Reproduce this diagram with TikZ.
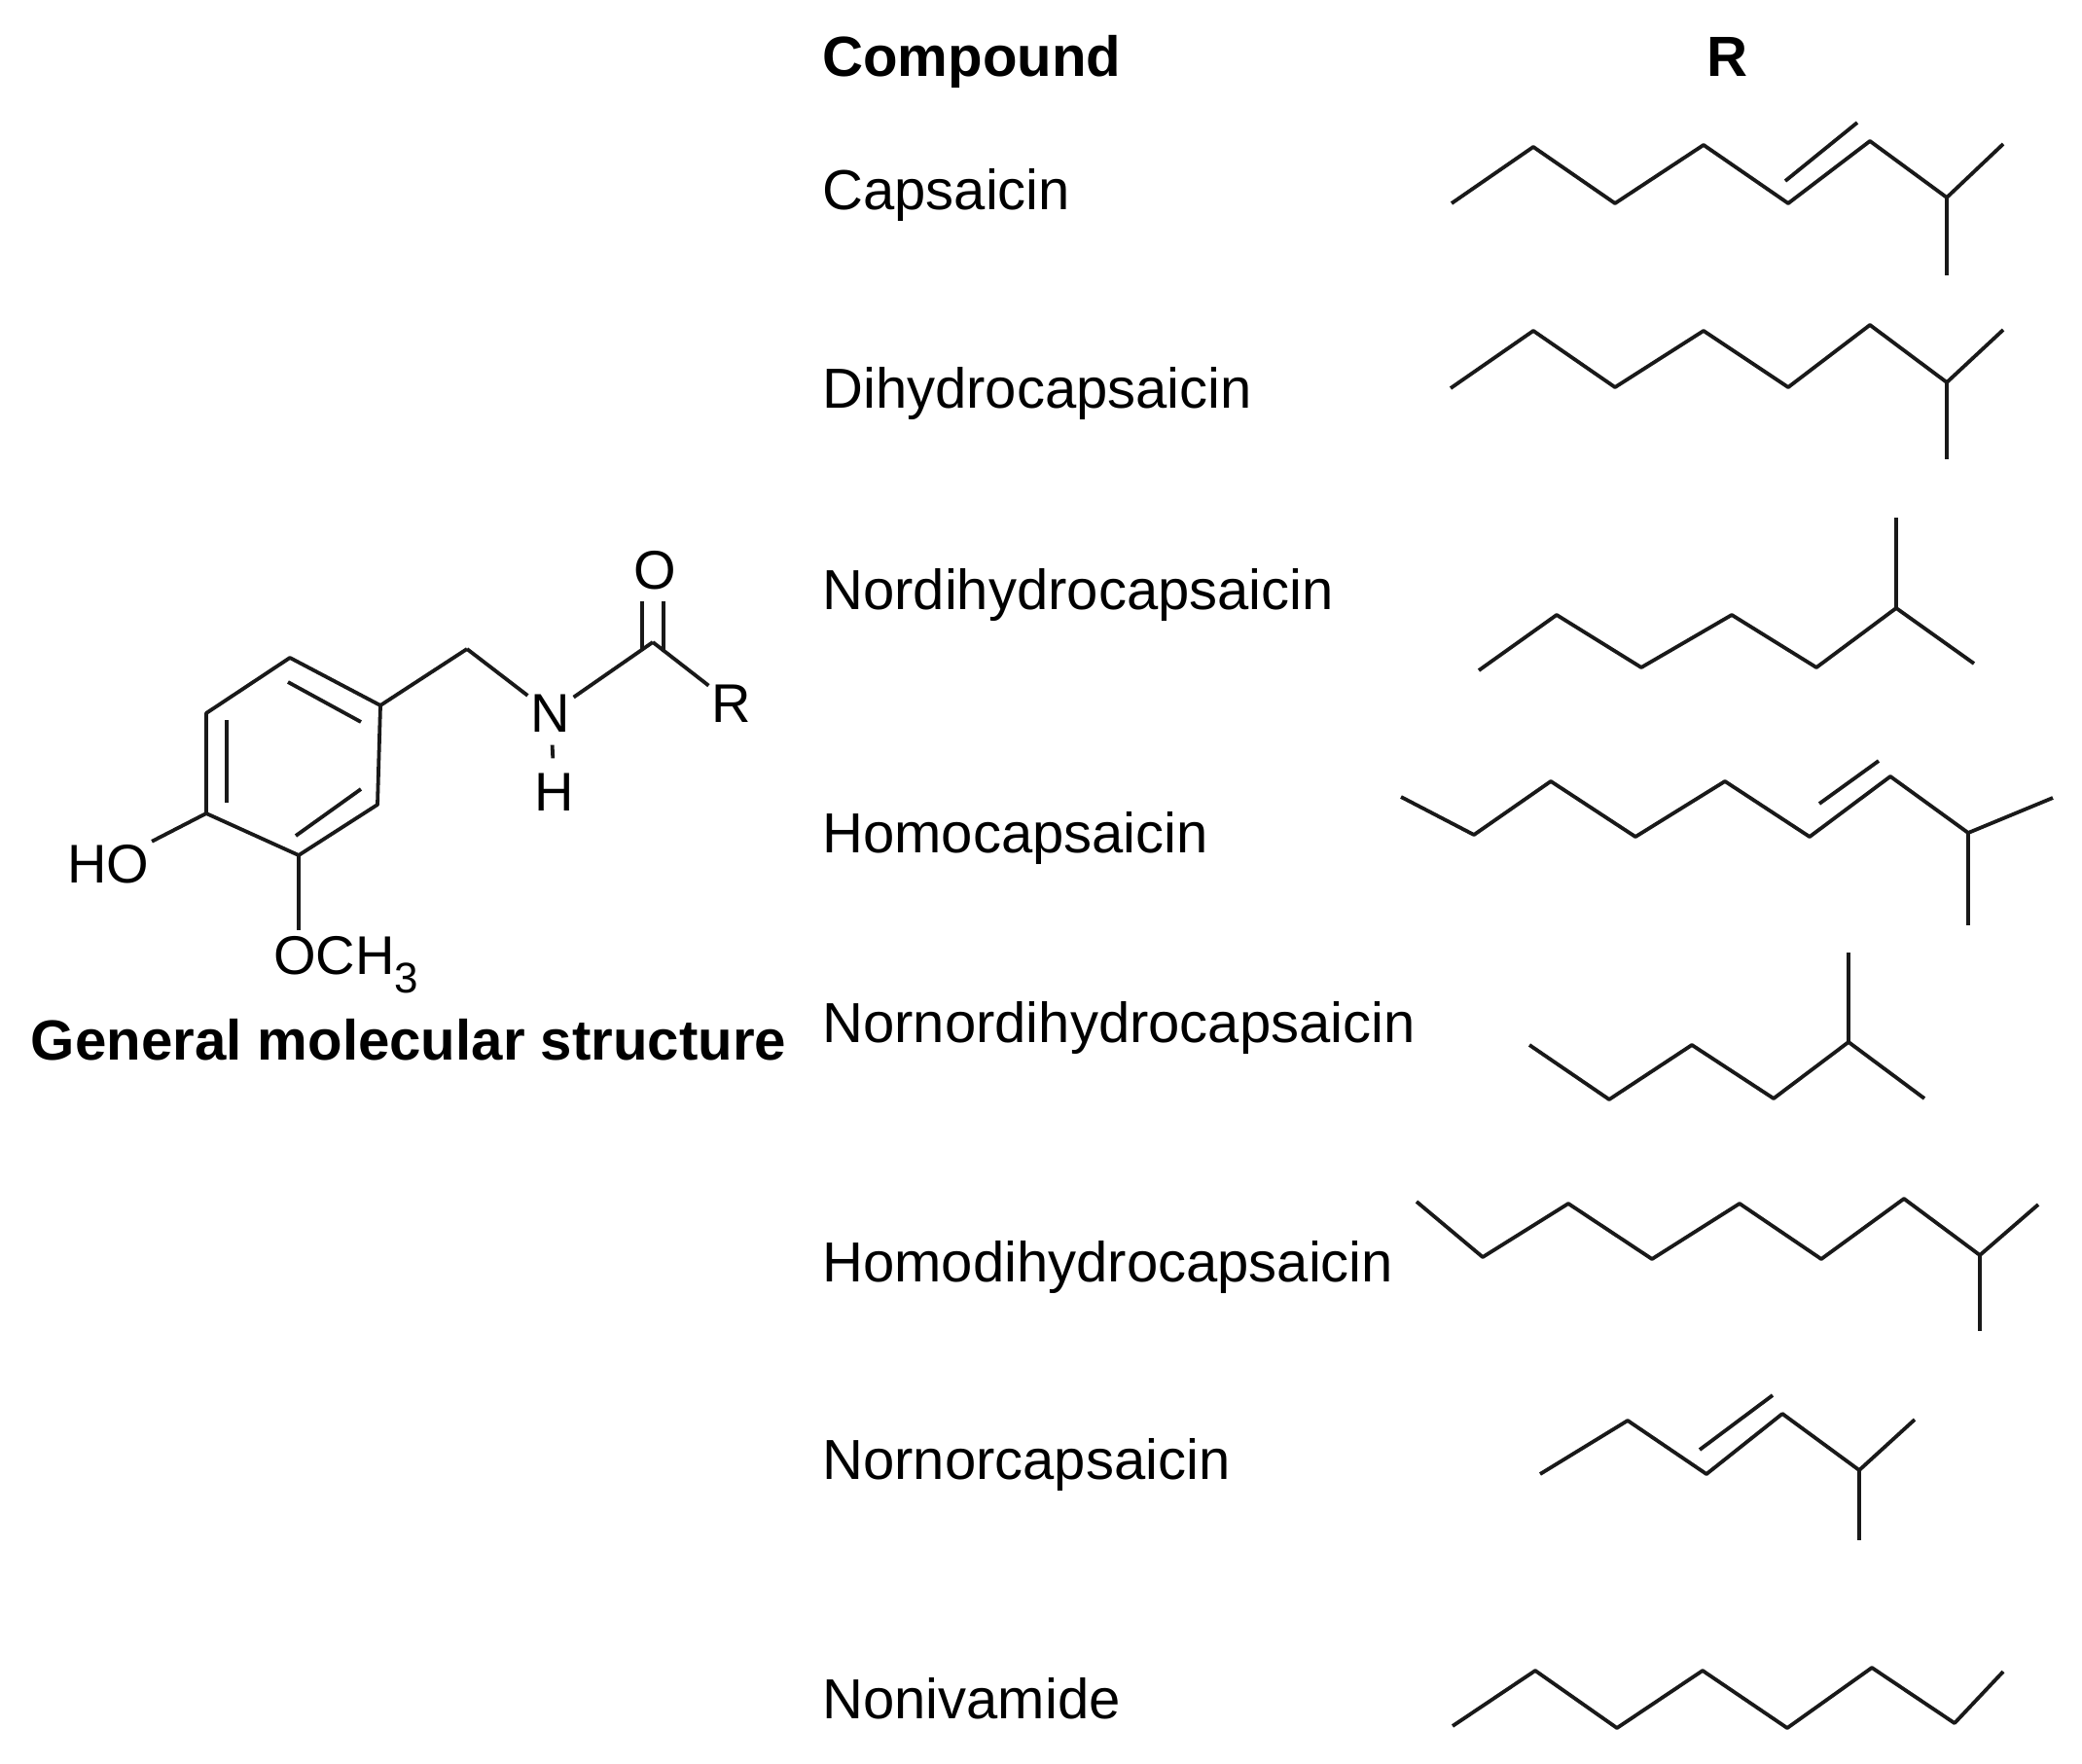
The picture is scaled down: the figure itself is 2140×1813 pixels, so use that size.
\documentclass[tikz,border=0pt]{standalone}
\usepackage{fontspec}
\setmainfont{Liberation Sans}
\begin{document}
\begin{tikzpicture}[x=0.5pt,y=-0.5pt,line join=round,
    bond/.style={line width=1.9pt,black!90},
    atom/.style={inner sep=1.5pt,font=\fontsize{28}{30}\selectfont},
    label/.style={anchor=base west,inner sep=0pt,font=\fontsize{29}{32}\selectfont},
    heading/.style={inner sep=0pt,font=\fontsize{29.1}{32}\selectfont\bfseries}]

    \useasboundingbox (0,0) rectangle (2140,1813);

    % Table headings and compound names
    \node[heading,anchor=base west] (compound) at (845,79) {Compound};
    \node[heading,anchor=base] (rhead) at (1775,79) {R};
    \node[label] (capsaicin) at (845,216) {Capsaicin};
    \node[label] (dihydro) at (845,419) {Dihydrocapsaicin};
    \node[label] (nordihydro) at (845,626) {Nordihydrocapsaicin};
    \node[label] (homo) at (845,876) {Homocapsaicin};
    \node[label] (nornordihydro) at (845,1071) {Nornordihydrocapsaicin};
    \node[label] (homodihydro) at (845,1317) {Homodihydrocapsaicin};
    \node[label] (nornor) at (845,1520) {Nornorcapsaicin};
    \node[label] (nonivamide) at (845,1766) {Nonivamide};
    \node[heading,anchor=base] (general) at (420,1089) {General molecular structure};

    % Ring and side chain atoms
    \foreach \u/\x/\y in {r1/298/676,r2/391/725,r3/388/827,r4/307/879,r5/212/836,r6/212/733,
        ch/480/667,co/671/660,cl/660/668,cr/682/670,ol/660/618,or/682/618,
        i1/296/701,i2/371/742,i3/371/811,i4/304/859,i5/233/740,i6/233/825} {
      \coordinate (\u) at (\x,\y);
    }
    \node[atom] (n) at (566,733) {N};
    \node[atom] (h) at (570,814) {H};
    \node[atom] (o) at (673,586) {O};
    \node[atom] (r) at (752,723) {R};
    \node[atom] (ho) at (111,888) {HO};
    \node[atom,anchor=base west,inner sep=0pt] (och) at (281,1001) {OCH\raisebox{-9.5pt}{\fontsize{22}{24}\selectfont 3}};

    % General structure bonds
    \draw[bond] (r1) -- (r2) -- (r3) -- (r4) -- (r5) -- (r6) -- cycle;
    \foreach \u/\v in {i1/i2,i3/i4,i5/i6,r2/ch,ch/n,co/n,co/r,r5/ho,cl/ol,cr/or} {
      \draw[bond] (\u) -- (\v);
    }
    \draw[bond,shorten >=6pt,shorten <=5pt] (n) -- (h);
    \draw[bond] (r4) -- ([yshift=3pt]och.north -| r4);

    % Capsaicin
    \foreach \u/\x/\y in {a1/1492/209,a2/1576/151,a3/1660/209,a4/1751/149,a5/1838/209,a6/1922/145,
        a7/2001/203,a8/2059/148,a9/2001/283,a10/1835/186,a11/1909/126} {
      \coordinate (\u) at (\x,\y);
    }
    \draw[bond] (a1) -- (a2) -- (a3) -- (a4) -- (a5) -- (a6) -- (a7) -- (a8);
    \draw[bond] (a7) -- (a9);
    \draw[bond] (a10) -- (a11);

    % Dihydrocapsaicin
    \foreach \u/\x/\y in {b1/1491/399,b2/1576/340,b3/1660/398,b4/1751/340,b5/1838/398,b6/1922/334,
        b7/2001/393,b8/2059/339,b9/2001/472} {
      \coordinate (\u) at (\x,\y);
    }
    \draw[bond] (b1) -- (b2) -- (b3) -- (b4) -- (b5) -- (b6) -- (b7) -- (b8);
    \draw[bond] (b7) -- (b9);

    % Nordihydrocapsaicin
    \foreach \u/\x/\y in {c1/1520/689,c2/1600/632,c3/1687/686,c4/1780/632,c5/1867/686,c6/1949/625,
        c7/2029/682,c8/1949/532} {
      \coordinate (\u) at (\x,\y);
    }
    \draw[bond] (c1) -- (c2) -- (c3) -- (c4) -- (c5) -- (c6) -- (c7);
    \draw[bond] (c6) -- (c8);

    % Homocapsaicin
    \foreach \u/\x/\y in {d1/1440/819,d2/1515/858,d3/1594/803,d4/1681/860,d5/1773/803,d6/1860/860,
        d7/1943/798,d8/2023/856,d9/2110/820,d10/2023/951,d11/1870/826,d12/1931/782} {
      \coordinate (\u) at (\x,\y);
    }
    \draw[bond] (d1) -- (d2) -- (d3) -- (d4) -- (d5) -- (d6) -- (d7) -- (d8) -- (d9);
    \draw[bond] (d8) -- (d10);
    \draw[bond] (d11) -- (d12);

    % Nornordihydrocapsaicin
    \foreach \u/\x/\y in {e1/1572/1074,e2/1654/1130,e3/1739/1074,e4/1823/1129,e5/1900/1071,
        e6/1978/1129,e7/1900/979} {
      \coordinate (\u) at (\x,\y);
    }
    \draw[bond] (e1) -- (e2) -- (e3) -- (e4) -- (e5) -- (e6);
    \draw[bond] (e5) -- (e7);

    % Homodihydrocapsaicin
    \foreach \u/\x/\y in {f1/1456/1235,f2/1524/1292,f3/1612/1237,f4/1698/1294,f5/1788/1237,f6/1872/1294,
        f7/1957/1232,f8/2035/1290,f9/2095/1238,f10/2035/1368} {
      \coordinate (\u) at (\x,\y);
    }
    \draw[bond] (f1) -- (f2) -- (f3) -- (f4) -- (f5) -- (f6) -- (f7) -- (f8) -- (f9);
    \draw[bond] (f8) -- (f10);

    % Nornorcapsaicin
    \foreach \u/\x/\y in {g1/1583/1515,g2/1673/1460,g3/1754/1515,g4/1832/1453,g5/1911/1511,g6/1968/1459,
        g7/1911/1583,g8/1747/1490,g9/1822/1434} {
      \coordinate (\u) at (\x,\y);
    }
    \draw[bond] (g1) -- (g2) -- (g3) -- (g4) -- (g5) -- (g6);
    \draw[bond] (g5) -- (g7);
    \draw[bond] (g8) -- (g9);

    % Nonivamide
    \foreach \u/\x/\y in {k1/1493/1774,k2/1578/1717,k3/1662/1776,k4/1750/1717,k5/1837/1776,k6/1924/1714,
        k7/2009/1771,k8/2059/1718} {
      \coordinate (\u) at (\x,\y);
    }
    \draw[bond] (k1) -- (k2) -- (k3) -- (k4) -- (k5) -- (k6) -- (k7) -- (k8);

\end{tikzpicture}
\end{document}
